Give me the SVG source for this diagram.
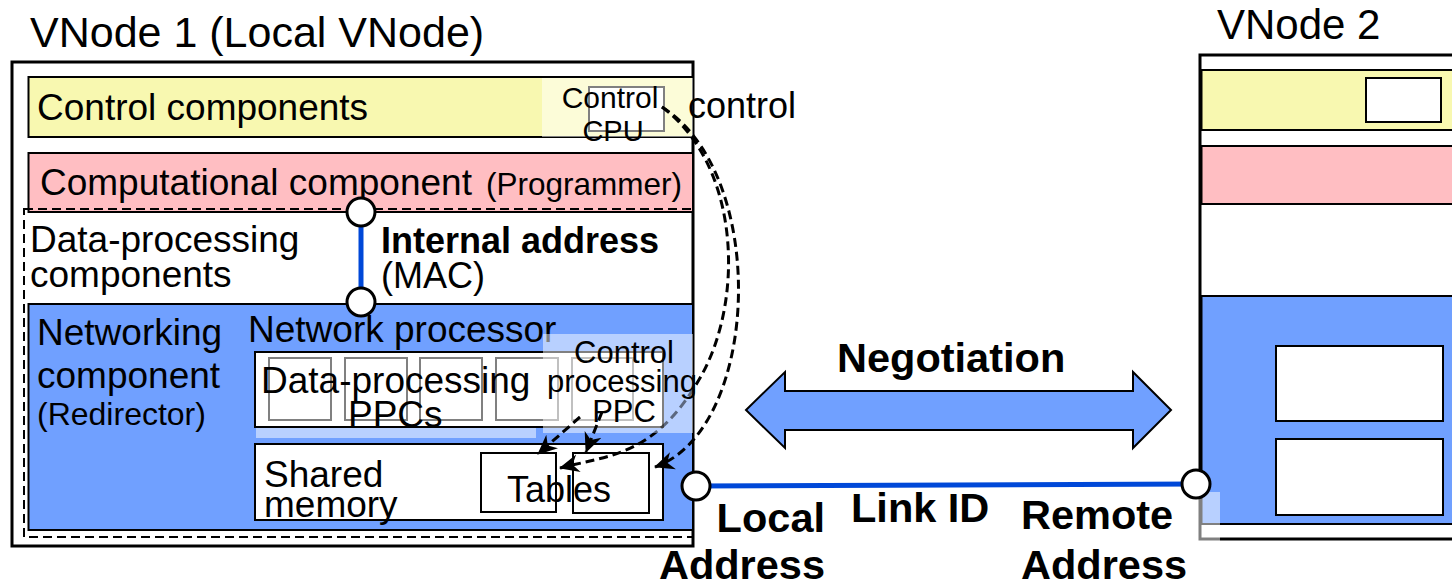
<svg xmlns="http://www.w3.org/2000/svg" width="1452" height="580" viewBox="0 0 1452 580">
<style>
text{font-family:"Liberation Sans",Arial,sans-serif;fill:#000}
.t37{font-size:37px}
.t31{font-size:31px;text-anchor:middle}
.b{font-weight:bold;font-size:41.5px}
.outer{fill:#fff;stroke:#000;stroke-width:3}
.ctl{fill:#f8f8b0;stroke:#000;stroke-width:2}
.cmp{fill:#ffbec2;stroke:#000;stroke-width:2}
.net{fill:#70a0ff;stroke:#000;stroke-width:2}
.box{fill:#fff;stroke:#000;stroke-width:2}
.ppc{fill:#fff;stroke:#808080;stroke-width:2}
.veil{fill:#fff;fill-opacity:0.5}
.dash{fill:none;stroke:#000;stroke-width:2;stroke-dasharray:9 5}
.port{fill:#fff;stroke:#000;stroke-width:3}
.flow{fill:none;stroke:#000;stroke-width:3;stroke-dasharray:9 5;marker-end:url(#ah)}
.link{stroke:#0048d8;fill:none}
</style>
<defs>
<marker id="ah" viewBox="0 0 20 20" markerWidth="20" markerHeight="20" refX="19" refY="10" orient="auto" markerUnits="userSpaceOnUse"><path d="M0,1 L20,10 L0,19 L6,10 z" fill="#000"/></marker>
<mask id="veilmask" maskUnits="userSpaceOnUse" x="0" y="0" width="1452" height="580"><rect width="1452" height="580" fill="#fff"/><rect x="543" y="334" width="150" height="99" fill="#808080"/></mask>
</defs>

<g id="vnode1">
<text x="30" y="47" style="font-size:43px">VNode 1 (Local VNode)</text>
<rect class="outer" x="12" y="62" width="681" height="484"/>
<g id="control-components">
<rect class="ctl" x="28.5" y="77" width="664.5" height="60"/>
<rect class="box" x="589" y="87" width="75" height="44"/>
<rect class="veil" x="542" y="78" width="151" height="59"/>
<text class="t37" x="37" y="120">Control components</text>
<text x="610" y="108" style="font-size:30px;text-anchor:middle">Control</text>
<text x="613" y="141" style="font-size:29px;text-anchor:middle">CPU</text>
</g>
<g id="computational-component">
<rect class="cmp" x="28.5" y="153" width="664.5" height="59"/>
<text class="t37" x="40" y="195">Computational component<tspan x="486" style="font-size:31.5px">(Programmer)</tspan></text>
</g>
<g id="data-processing-components">
<rect class="dash" x="24" y="209" width="669" height="328"/>
<text class="t37" x="30" y="252">Data-processing</text>
<text class="t37" x="30" y="287">components</text>
</g>
<g id="networking-component">
<rect class="net" x="28.5" y="304" width="664.5" height="226"/>
<text class="t37" x="37" y="345">Networking</text>
<text class="t37" x="37" y="388">component</text>
<text x="37" y="425" style="font-size:32px">(Redirector)</text>
<g id="network-processor">
<text class="t37" x="248" y="342">Network processor</text>
<rect class="box" x="255" y="352" width="408" height="75"/>
<rect class="ppc" x="269" y="358" width="62" height="62"/>
<rect class="ppc" x="345" y="358" width="62" height="62"/>
<rect class="ppc" x="420" y="358" width="62" height="62"/>
<rect class="ppc" x="496" y="358" width="62" height="62"/>
<rect class="ppc" x="572" y="358" width="61" height="62"/>
<rect class="veil" x="256" y="428" width="280" height="10"/>
<rect class="veil" x="543" y="334" width="150" height="99"/>
<text class="t37" x="261" y="393">Data-processing</text>
<text class="t37" x="348" y="427">PPCs</text>
<text class="t31" x="624" y="363">Control</text>
<text class="t31" x="622" y="392">processing</text>
<text class="t31" x="624" y="422">PPC</text>
</g>
<g id="shared-memory">
<rect class="box" x="255" y="444" width="408" height="76"/>
<rect class="box" x="481" y="453" width="75" height="59"/>
<rect class="box" x="573" y="453" width="76" height="60"/>
<text class="t37" x="264" y="487">Shared</text>
<text class="t37" x="264" y="517">memory</text>
<text x="507" y="502" style="font-size:36px">Tables</text>
</g>
</g>
</g>

<g id="vnode2">
<text x="1217" y="39" style="font-size:42px">VNode 2</text>
<rect class="outer" x="1200" y="55" width="270" height="484"/>
<rect class="ctl" x="1201.5" y="70" width="270" height="60"/>
<rect class="box" x="1366" y="78" width="75" height="44"/>
<rect class="cmp" x="1201.5" y="146" width="270" height="58"/>
<rect class="net" x="1201.5" y="296" width="270" height="228"/>
<rect class="box" x="1276" y="346" width="167" height="75"/>
<rect class="box" x="1276" y="439" width="167" height="76"/>
<rect class="veil" x="1198" y="492" width="22" height="50"/>
</g>

<g id="connectors">
<line class="link" x1="361" y1="212" x2="361" y2="302" stroke-width="5"/>
<line class="link" x1="696" y1="486" x2="1196" y2="484" stroke-width="5"/>
<path class="flow" d="M662,107 C770,175 760,430 655,467"/>
<path class="flow" mask="url(#veilmask)" d="M662,107 C740,165 745,300 700,378 C655,456 610,455 560,468"/>
<path class="flow" d="M580,417 L538,454"/>
<path class="flow" d="M602,412 L586,452"/>
<polygon points="746,410 785,372 785,391 1133,391 1133,372 1171,410 1133,448 1133,430 785,430 785,448" fill="#70a0ff" stroke="#000" stroke-width="2"/>
<circle class="port" cx="361" cy="212" r="14"/>
<circle class="port" cx="361" cy="302" r="14"/>
<circle class="port" cx="696" cy="486" r="14"/>
<circle class="port" cx="1196" cy="484" r="14"/>
<text x="688" y="118" style="font-size:36px">control</text>
<text x="381" y="253" style="font-size:36px;font-weight:bold">Internal address</text>
<text x="381" y="288" style="font-size:36px">(MAC)</text>
<text class="b" x="837" y="372">Negotiation</text>
<text class="b" x="825" y="532" text-anchor="end">Local</text>
<text class="b" x="825" y="579" text-anchor="end">Address</text>
<text class="b" x="851" y="522">Link ID</text>
<text class="b" x="1021" y="529">Remote</text>
<text class="b" x="1021" y="579">Address</text>
</g>
</svg>
